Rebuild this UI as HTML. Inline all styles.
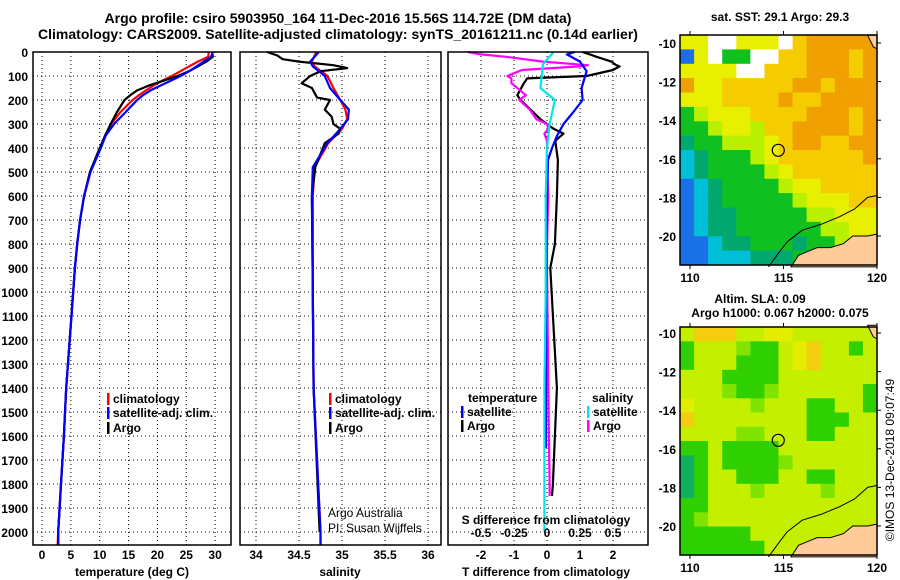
<!DOCTYPE html>
<html><head><meta charset="utf-8"><style>
html,body{margin:0;padding:0;background:#fff;}
svg{display:block;font-family:"Liberation Sans",sans-serif;}
.b{font-weight:bold;font-size:12px;}
</style></head><body>
<svg id="fig" width="900" height="580" viewBox="0 0 900 580" xmlns="http://www.w3.org/2000/svg">
<rect width="900" height="580" fill="#fff"/>
<text x="338" y="23" text-anchor="middle" font-size="14" font-weight="bold">Argo profile: csiro 5903950_164 11-Dec-2016 15.56S 114.72E (DM data)</text>
<text x="338" y="39" text-anchor="middle" font-size="14" font-weight="bold">Climatology: CARS2009. Satellite-adjusted climatology: synTS_20161211.nc (0.14d earlier)</text>
<g id="plots"></g>
<text transform="translate(894,460) rotate(-90)" text-anchor="middle" font-size="12">©IMOS 13-Dec-2018 09:07:49</text>
</svg>
<script>
// ---------- profile data ----------
const tDepth=[0,20,40,60,80,100,120,140,160,180,200,250,300,350,400,500,600,700,800,900,1000,1200,1400,1600,1800,2000,2055];
const tClim=[28.9,28.8,27,25.5,24,22.5,20.8,19.3,18,16.8,15.7,13.6,12,10.9,10.1,8.4,7.3,6.6,6.1,5.7,5.4,4.8,4.2,3.8,3.3,2.8,2.7];
const tSat=[29.6,29.3,28,26.8,25.5,24,22.3,20.5,18.8,17.5,16.5,14.5,12.5,11,10.2,8.4,7.3,6.6,6.1,5.7,5.4,4.8,4.2,3.8,3.3,2.8,2.8];
const tArgo=[29.5,29.6,28.5,27,25.5,23.5,21,18.5,16.5,15.3,14.3,13,11.9,10.9,10,8.3,7.3,6.6,6.1,5.7,5.4,4.8,4.2,3.8,3.3,2.8,2.8];
const sDepth=[0,40,60,100,150,200,240,280,320,380,480,600,1000,1400,2000,2055];
const sClim=[34.7,34.65,34.68,34.83,34.9,34.98,35.04,35.06,35.0,34.84,34.68,34.66,34.66,34.67,34.75,34.75];
const sSat=[34.73,34.63,34.66,34.8,34.86,34.98,35.08,35.07,34.98,34.83,34.66,34.65,34.66,34.67,34.75,34.75];
const aDepth=[0,15,30,40,55,67,80,100,130,150,190,200,240,270,300,320,340,380,480,600,1000,1400,2000];
const sArgo=[34.13,34.25,34.31,34.5,34.9,35.06,34.75,34.63,34.53,34.65,34.71,34.86,34.8,34.88,34.9,34.98,34.96,34.8,34.69,34.65,34.66,34.67,34.74];
const dDepth=[0,10,20,40,55,60,75,100,110,130,180,200,240,280,300,320,340,370,450,600,800,900,1400,1800,1850];
const dtArgo=[1.07,1.3,1.5,1.95,2.1,2.2,2.0,1.2,-0.6,-0.7,-0.9,-0.8,-0.5,-0.2,0,0.2,0.5,0.25,0.33,0.3,0.24,0.1,0.3,0.18,0.15];
const dsArgo=[-0.6,-0.5,-0.31,-0.03,0.31,0.25,-0.19,-0.3,-0.27,-0.27,-0.16,-0.21,-0.13,-0.08,0,0.01,-0.02,0.0,0.0,0.01,0.0,0.0,0.01,0.02,0.02];
const sDepth2=[0,10,40,80,150,200,250,300,350,400,450,600,1000,1650];
const dtSat=[0.84,0.6,1.0,1.2,1.05,1.08,0.8,0.5,0.3,0.15,0.03,0,-0.03,-0.03];
const sDepth3=[0,50,100,150,200,250,300,400,600,1000,1400,2000];
const dsSat=[0.05,-0.03,-0.04,-0.05,0.06,0.04,0.02,0,-0.01,-0.01,-0.02,-0.02];
const depthTicks=[0,100,200,300,400,500,600,700,800,900,1000,1100,1200,1300,1400,1500,1600,1700,1800,1900,2000];
const tTicks=[0,5,10,15,20,25,30];
const sTicks=[34,34.5,35,35.5,36];
const dtTicks=[-2,-1,0,1,2];
const dsTicks=[-0.5,-0.25,0,0.25,0.5];
const dsTickLabels=["-0.5","-0.25","0","0.25","0.5"];

const NS="http://www.w3.org/2000/svg";
const root=document.getElementById('plots');
function mk(tag,attrs,parent){const e=document.createElementNS(NS,tag);for(const k in attrs)e.setAttribute(k,attrs[k]);(parent||root).appendChild(e);return e;}
function txt(x,y,s,anchor,cls,parent){const e=mk('text',{x:x,y:y,'text-anchor':anchor||'start','class':cls||'b'},parent);e.textContent=s;return e;}

const Y=d=>52+d*0.24;
const TX=v=>42+v*5.77;
const SX=v=>256+(v-34)*86;
const DTX=v=>547+v*33;
const DSX=v=>547+v*132;
const TOP=52,BOT=545;

function panel(x0,x1,name){
  const g=mk('g',{});
  
  
  return g;
}
function gridV(g,xs){xs.forEach(x=>{const l=mk('line',{x1:x,x2:x,y1:TOP,y2:BOT,stroke:'#000','stroke-width':1,'stroke-dasharray':'1,3'},g);});}
function gridH(g,x0,x1){depthTicks.forEach(d=>{const l=mk('line',{x1:x0,x2:x1,y1:Y(d),y2:Y(d),stroke:'#000','stroke-width':1,'stroke-dasharray':'1,3'},g);});}
function frame(g,x0,x1){const r=mk('rect',{x:x0,y:TOP,width:x1-x0,height:BOT-TOP,fill:'none',stroke:'#000','stroke-width':1.5},g);}
function line(g,xs,ds,fx,color,name,w){
  const pts=xs.map((v,i)=>fx(v).toFixed(1)+','+Y(ds[i]).toFixed(1)).join(' ');
  const p=mk('polyline',{points:pts,fill:'none',stroke:color,'stroke-width':w||2.2,'stroke-linejoin':'round'},g);
  
}
function legendItem(g,x,y,color,label,name){
  const r=mk('rect',{x:x,y:y-10,width:2.5,height:12,fill:color},g);
  
  const t=txt(x+6,y,label,'start','b',g);
  
}

// depth axis labels
const dax=mk('g',{});


depthTicks.forEach(d=>{const t=txt(28,Y(d)+5,String(d),'end','b',dax);});

// Panel 1 temperature
const g1=panel(33,231,'temperature-panel');
gridV(g1,tTicks.map(TX));gridH(g1,33,231);
line(g1,tClim,tDepth,TX,'#ff0000','temperature-climatology-line');
line(g1,tArgo,tDepth,TX,'#000000','temperature-argo-line');
line(g1,tSat,tDepth,TX,'#0000ff','temperature-satellite-line');
frame(g1,33,231);
tTicks.forEach(v=>{const t=txt(TX(v),559,String(v),'middle','b',g1);});
{const t=txt(132,576,'temperature (deg C)','middle','b',g1);}
legendItem(g1,107,403,'#ff0000','climatology','legend-climatology');
legendItem(g1,107,417,'#0000ff','satellite-adj. clim.','legend-satellite-adj');
legendItem(g1,107,432,'#000000','Argo','legend-argo');

// Panel 2 salinity
const g2=panel(240,441,'salinity-panel');
gridV(g2,sTicks.map(SX));gridH(g2,240,441);
line(g2,sClim,sDepth,SX,'#ff0000','salinity-climatology-line');
line(g2,sArgo,aDepth,SX,'#000000','salinity-argo-line');
line(g2,sSat,sDepth,SX,'#0000ff','salinity-satellite-line');
frame(g2,240,441);
sTicks.forEach(v=>{const t=txt(SX(v),559,String(v),'middle','b',g2);});
{const t=txt(340,576,'salinity','middle','b',g2);}
legendItem(g2,329,403,'#ff0000','climatology','legend-climatology');
legendItem(g2,329,417,'#0000ff','satellite-adj. clim.','legend-satellite-adj');
legendItem(g2,329,432,'#000000','Argo','legend-argo');
{const t=mk('text',{x:328,y:517,'font-size':12},g2);t.textContent='Argo Australia';}
{const t=mk('text',{x:328,y:532,'font-size':12},g2);t.textContent='PI: Susan Wijffels';}

// Panel 3 differences
const g3=panel(448,648,'difference-panel');
gridV(g3,dtTicks.map(DTX));gridH(g3,448,648);
line(g3,dtArgo,dDepth,DTX,'#000000','t-diff-argo-line');
line(g3,dsArgo,dDepth,DSX,'#ff00ff','s-diff-argo-line');
line(g3,dtSat,sDepth2,DTX,'#0000ff','t-diff-satellite-line');
line(g3,dsSat,sDepth3,DSX,'#00e5ee','s-diff-satellite-line');
frame(g3,448,648);
dtTicks.forEach(v=>{const t=txt(DTX(v),559,String(v),'middle','b',g3);});
dsTicks.forEach((v,i)=>{const t=txt(DSX(v),537,dsTickLabels[i],'middle','b',g3);});
{const t=txt(546,524,'S difference from climatology','middle','b',g3);}
{const t=txt(546,576,'T difference from climatology','middle','b',g3);}
{const t=txt(468,402,'temperature','start','b',g3);}
{const t=txt(592,402,'salinity','start','b',g3);}
legendItem(g3,461,416,'#0000ff','satellite','legend-t-satellite');
legendItem(g3,461,430,'#000000','Argo','legend-t-argo');
legendItem(g3,587,416,'#00e5ee','satellite','legend-s-satellite');
legendItem(g3,587,430,'#ff00ff','Argo','legend-s-argo');

// ---------- maps ----------
const sstRows=[
"YYWWYYYWZOOOOO","BYWGGWWZZOOOZO","YYYYWWZZZOOOZO","OYYZZZZZOOZOOO",
"YYYZZZZOZZOOOO","GLYYYZZZZOOOZO","GGLYYLZZOOOOZO","TGGLLLYZOOZZOO",
"CTGGGLYZZZZZZO","CTGGGGLYZZZZZZ","BCTGGGGLYYZZZZ","BCTGGGGGLYYYZZ",
"BCTTGGGGGLLYYY","BCTTGGGGGGLLYY","BBCTTGGGTGGLYY","BBCCCTTTGGLLYY"];
const slaRows=[
"LZZZLLYYLLLLLL","GLLLMGGLYZLLGL","GLLLGGGLYZLLLL","LLLGGGGLLLLLLL",
"LLLMGGMLLLLLLG","YLLLLMLLLGGLLG","ZLLLLLLLLGGGLL","LLLLMMLLLGGLLL",
"GGLGGGGLLLLLLL","TGLGGGGMLLLLLL","TGLLGGGLLGGLLL","TGLLLMLLLLMLLL",
"GGLLLLLLLLLLLL","GMLLLLLLLLLLLL","GGGGGLLLLLLLLL","GGGGGGLLLLLLLL"];
const sstColors={B:'#1a70e6',C:'#00c0d8',T:'#00a870',G:'#10c020',L:'#b8f000',Y:'#e8f000',Z:'#f5cc00',O:'#f0a000',W:'#ffffff'};
const slaColors={G:'#30d000',M:'#80e400',L:'#c4f000',Y:'#e4ec00',Z:'#f4cc10',T:'#10b060'};
const lonTicks=[110,115,120];
const latTicks=[10,12,14,16,18,20];
const argoLon=114.72, argoLat=15.56;
const landMain=[[115.4,21.6],[115.8,21.0],[116.3,20.8],[116.8,20.6],[117.5,20.6],[118.2,20.4],[118.7,20.0],[119.5,20.0],[120,19.9],[120,21.6]];
const landNE=[[119.5,9.6],[120,9.6],[120,10.3],[119.8,10.2]];
const shelf=[[114.2,21.6],[114.8,20.8],[115.2,20.3],[116,19.7],[117,19.4],[118,19.0],[118.8,18.6],[119.5,18.0],[120,17.9]];

function drawMap(name,rows,colors,y0,y1,latY0){
  const g=mk('g',{});
  
  
  const x0=680,x1=877;
  const LX=lon=>690+(lon-110)*18.7;
  const LY=lat=>latY0+(lat-10)*19.3;
  const cw=(x1-x0)/rows[0].length, ch=(y1-y0)/rows.length;
  rows.forEach((r,ri)=>{[...r].forEach((c,ci)=>{
    const cell=mk('rect',{x:(x0+ci*cw).toFixed(1),y:(y0+ri*ch).toFixed(1),width:(cw+0.6).toFixed(1),height:(ch+0.6).toFixed(1),fill:colors[c]},g);
    
    
  });});
  [landMain,landNE].forEach(poly=>{
    const p=mk('polygon',{points:poly.map(q=>LX(q[0]).toFixed(1)+','+LY(q[1]).toFixed(1)).join(' '),fill:'#ffcc99',stroke:'#000','stroke-width':1},g);
    
  });
  const sh=mk('polyline',{points:shelf.map(q=>LX(q[0]).toFixed(1)+','+LY(q[1]).toFixed(1)).join(' '),fill:'none',stroke:'#000','stroke-width':1},g);
  
  const c=mk('circle',{cx:LX(argoLon),cy:LY(argoLat),r:6,fill:'none',stroke:'#000','stroke-width':1.2},g);
  
  const f=mk('rect',{x:x0,y:y0,width:x1-x0,height:y1-y0,fill:'none',stroke:'#000','stroke-width':1.5},g);
  
  lonTicks.forEach(v=>{
    const t=txt(LX(v),y1+17,String(v),'middle','b',g);
    mk('line',{x1:LX(v),x2:LX(v),y1:y0,y2:y0-4,stroke:'#000'},g);
    mk('line',{x1:LX(v),x2:LX(v),y1:y1,y2:y1+4,stroke:'#000'},g);
  });
  latTicks.forEach(v=>{
    const t=txt(676,LY(v)+5,'-'+v,'end','b',g);
    mk('line',{x1:x1,x2:x1+4,y1:LY(v),y2:LY(v),stroke:'#000'},g);
  });
  return g;
}
const m1=drawMap('sst-map',sstRows,sstColors,35,265,43);
{const t=txt(780,21,'sat. SST: 29.1 Argo: 29.3','middle','b');}
const m2=drawMap('sla-map',slaRows,slaColors,327,555,333);
{const t=txt(760,303,'Altim. SLA: 0.09','middle','b');}
{const t=txt(780,317,'Argo h1000: 0.067 h2000: 0.075','middle','b');}
</script>
</body></html>
